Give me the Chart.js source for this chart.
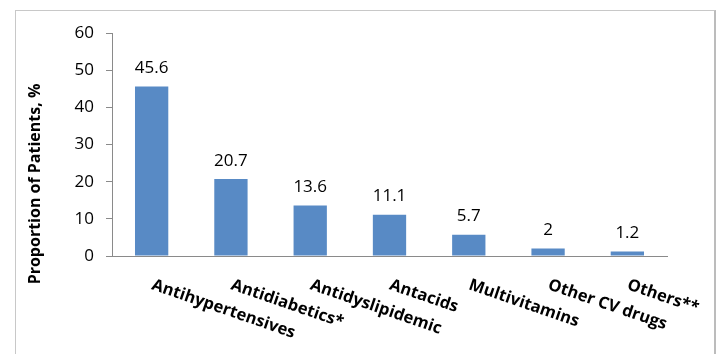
<!DOCTYPE html>
<html>
<head>
<meta charset="utf-8">
<script src="https://cdn.jsdelivr.net/npm/chart.js@4.4.1/dist/chart.umd.min.js"></script>
<style>
  html, body { margin: 0; padding: 0; background: #ffffff; }
  #wrap { position: relative; width: 718px; height: 354px; overflow: hidden; }
  #frame {
    position: absolute; left: 15px; top: 10px; width: 698px; height: 420px;
    border: 1px solid #c8c8c8; border-right: 2px solid #bcbcbc;
  }
  #chart { position: absolute; left: 0; top: 0; }
</style>
</head>
<body>
<div id="wrap">
  <div id="frame"></div>
  <canvas id="chart" width="718" height="354"></canvas>
</div>
<script>
// Drug classes and share of patients (%)
const categories = [
  'Antihypertensives',
  'Antidiabetics*',
  'Antidyslipidemic',
  'Antacids',
  'Multivitamins',
  'Other CV drugs',
  'Others**'
];
const proportions = [45.6, 20.7, 13.6, 11.1, 5.7, 2, 1.2];
const yTickValues = [0, 10, 20, 30, 40, 50, 60];
const yTitle = 'Proportion of Patients, %';

const BAR_COLOR = '#588ac5';
const AXIS_COLOR = '#8a8a8a';
const VALUE_FONT = '17px "Open Sans"';
const CATEGORY_FONT = 'bold 16.5px "Open Sans"';
const TITLE_FONT = 'bold 16px "Open Sans"';
const LABEL_ANGLE = 19 * Math.PI / 180;

// Value labels above bars, slanted category names and the y-axis title
const annotations = {
  id: 'annotations',
  afterDraw(chart) {
    const ctx = chart.ctx;
    const meta = chart.getDatasetMeta(0);
    const xs = chart.scales.x;
    ctx.save();
    ctx.fillStyle = '#000000';

    ctx.font = VALUE_FONT;
    ctx.textAlign = 'center';
    ctx.textBaseline = 'alphabetic';
    meta.data.forEach((bar, i) => {
      ctx.fillText(String(proportions[i]), bar.x, bar.y - 13.5);
    });

    ctx.font = CATEGORY_FONT;
    ctx.textAlign = 'left';
    categories.forEach((name, i) => {
      const x = xs.getPixelForTick(i);
      ctx.save();
      ctx.translate(x - 1, xs.top + 33);
      ctx.rotate(LABEL_ANGLE);
      ctx.fillText(name, 0, 0);
      ctx.restore();
    });

    ctx.font = TITLE_FONT;
    ctx.textAlign = 'center';
    ctx.textBaseline = 'middle';
    ctx.translate(35, 184);
    ctx.rotate(-Math.PI / 2);
    ctx.fillText(yTitle, 0, 0);
    ctx.restore();
  }
};

new Chart(document.getElementById('chart'), {
  type: 'bar',
  data: {
    labels: categories,
    datasets: [{
      data: proportions,
      backgroundColor: BAR_COLOR,
      borderWidth: 0,
      categoryPercentage: 1,
      barPercentage: 0.42
    }]
  },
  options: {
    responsive: false,
    animation: false,
    events: [],
    layout: { padding: { top: 33, right: 51, bottom: 0, left: 0 } },
    plugins: {
      legend: { display: false },
      tooltip: { enabled: false }
    },
    scales: {
      x: {
        grid: { display: false },
        border: { display: true, color: AXIS_COLOR, width: 1 },
        ticks: { display: false },
        afterFit(scale) { scale.height = 98; }
      },
      y: {
        min: 0,
        max: 60,
        afterBuildTicks(scale) { scale.ticks = yTickValues.map(v => ({ value: v })); },
        grid: { display: true, drawOnChartArea: false, drawTicks: true, tickLength: 6, color: AXIS_COLOR },
        border: { display: true, color: AXIS_COLOR, width: 1 },
        ticks: { color: '#000000', font: { family: 'Open Sans', size: 17 }, padding: 12 },
        afterFit(scale) { scale.width = 112; }
      }
    }
  },
  plugins: [annotations]
});
</script>
</body>
</html>
